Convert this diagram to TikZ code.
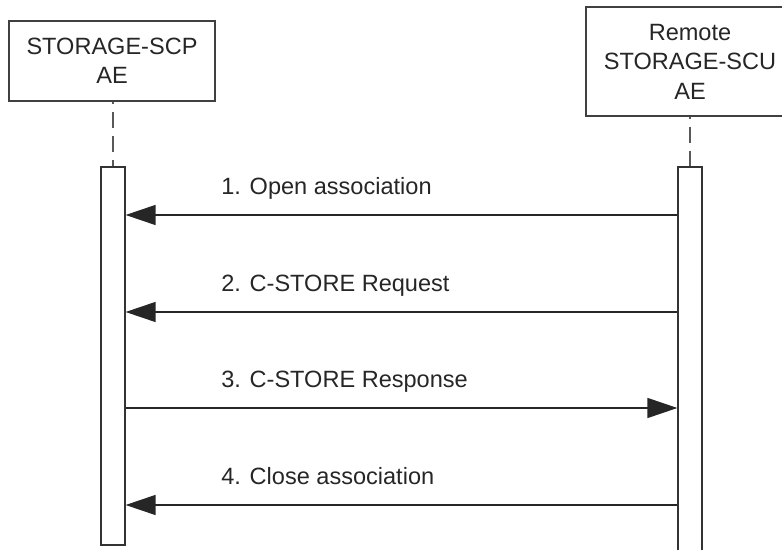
\documentclass[tikz,border=0pt]{standalone}
\usepackage{fontspec}
\setmainfont{Liberation Sans}
\usetikzlibrary{arrows.meta,shadows}
\begin{document}
\begin{tikzpicture}[x=0.02cm,y=-0.02cm,
	actor/.style={draw=black!75,line width=0.7pt,fill=white,align=center,
		font=\fontsize{13.4}{16.8}\selectfont,text=black!85,
		drop shadow={shadow xshift=0.03cm,shadow yshift=-0.03cm,fill=black!40,opacity=1}},
	lifebar/.style={draw=black!80,line width=0.7pt,fill=white,minimum width=0.48cm,inner sep=0pt},
	lifeline/.style={black!65,line width=1pt,dash pattern=on 0.32cm off 0.16cm,dash phase=0.28cm},
	msg/.style={draw=black!85,line width=0.7pt,-{Triangle[length=0.6cm,width=0.4cm]}},
	msglabel/.style={anchor=base west,inner sep=0pt,font=\fontsize{13.4}{16}\selectfont,text=black!85}]
	\useasboundingbox (0,0) rectangle (782,550);
	% the two application entities
	\node[actor,minimum width=4.12cm,minimum height=1.6cm] (scp) at (112,61) {STORAGE-SCP\\AE};
	\node[actor,minimum width=4.16cm,minimum height=2.18cm] (scu) at (690,61.5) {Remote\\STORAGE-SCU\\AE};
	% activation bars
	\node[lifebar,minimum height=7.56cm] (scpbar) at (113,356) {};
	\node[lifebar,minimum height=7.9cm] (scubar) at (690,364.5) {};
	\draw[lifeline] (scp.south -| scpbar.north) -- (scpbar.north);
	\draw[lifeline] (scu.south) -- (scubar.north);
	% messages
	\foreach \n/\y/\txt/\from/\to in {1/215/Open association/scubar.west/scpbar.east,
		2/312/C-STORE Request/scubar.west/scpbar.east,
		3/408/C-STORE Response/scpbar.east/scubar.west,
		4/505/Close association/scubar.west/scpbar.east}
	{
		\draw[msg] (\from |- 0,\y) -- (\to |- 0,\y);
		\node[msglabel] (label\n) at (221,\y-20) {\n. \txt};
	}
\end{tikzpicture}
\end{document}
